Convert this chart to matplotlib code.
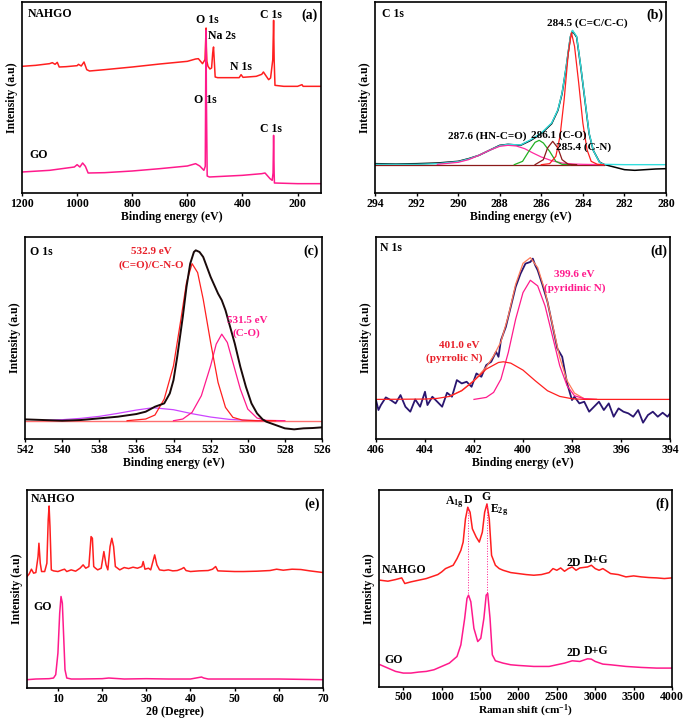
#Load packages.
import numpy as np
import matplotlib
matplotlib.use('Agg')
import matplotlib.pyplot as plt

plt.rcParams['font.family'] = ['Liberation Serif', 'DejaVu Serif']
plt.rcParams['font.weight'] = 'bold'
plt.rcParams['axes.labelweight'] = 'bold'
plt.rcParams['mathtext.fontset'] = 'custom'
plt.rcParams['mathtext.rm'] = 'Liberation Serif:bold'
plt.rcParams['mathtext.it'] = 'Liberation Serif:bold'

#Colours.
RED = '#ff1f1f'
PINK = '#ff1a8c'
NAVY = '#2a1670'

#(a) XPS survey.
a_nahgo_x = [1200, 1150, 1100, 1090, 1080, 1072, 1065, 1040, 1000, 995, 985, 975, 965, 955, 900, 800, 700, 600,
             570, 560, 545, 536, 533, 532, 531, 529, 525, 518, 512, 508, 505, 499, 490, 450, 412, 405, 398, 350,
             330, 324, 315, 305, 298, 290, 287, 285, 282, 250, 200, 184, 180, 150, 115]
a_nahgo_y = [380, 383, 388, 391, 386, 392, 378, 379, 382, 386, 381, 393, 370, 366, 370, 378, 387, 395,
             402, 403, 388, 400, 470, 495, 440, 395, 380, 372, 375, 420, 438, 348, 346, 346, 346, 355, 347, 350,
             356, 363, 352, 340, 345, 400, 518, 400, 323, 320, 320, 325, 320, 320, 320]
a_go_x = [1200, 1100, 1010, 1000, 990, 980, 970, 960, 900, 800, 700, 600, 570, 555, 540, 535, 533, 532, 531,
          528, 520, 400, 330, 318, 300, 292, 289, 287, 285, 284, 200, 115]
a_go_y = [63, 68, 78, 85, 78, 90, 80, 60, 61, 66, 73, 81, 88, 81, 68, 80, 400, 488, 300,
          51, 48, 53, 58, 60, 43, 38, 60, 173, 60, 30, 28, 28]

#(b) C 1s
b_exp_x = [294, 293, 292, 291, 290, 289.5, 289, 288.5, 288, 287.6, 287, 286.5, 286, 285.5, 285.2, 285, 284.8,
           284.6, 284.5, 284.3, 284.1, 283.9, 283.7, 283.5, 283.2, 283, 282.5, 282, 281.5, 281, 280.5, 280]
b_exp_y = [88, 87, 88, 90, 95, 103, 113, 128, 143, 146, 143, 158, 178, 208, 248, 298, 378,
           468, 486, 468, 378, 278, 178, 128, 93, 86, 78, 70, 68, 70, 72, 73]
b_fit_x = [294, 292, 291, 290, 289.5, 289, 288.5, 288, 287.6, 287, 286.5, 286, 285.5, 285.2, 285, 284.8,
           284.6, 284.5, 284.3, 284.1, 283.9, 283.7, 283.5, 283.2, 283, 282, 281, 280]
b_fit_y = [86, 86, 88, 94, 102, 113, 128, 142, 146, 144, 160, 180, 210, 250, 300, 380,
           470, 488, 470, 380, 280, 180, 128, 92, 86, 85, 85, 85]
b_cc_x = [286, 285.6, 285.3, 285.1, 284.9, 284.7, 284.55, 284.4, 284.2, 284.0, 283.8, 283.6, 283.3, 283]
b_cc_y = [85, 88, 110, 170, 280, 420, 481, 440, 330, 210, 130, 95, 86, 85]
b_co_x = [287.3, 286.9, 286.6, 286.3, 286.1, 285.9, 285.6, 285.3, 285.0, 284.6]
b_co_y = [85, 95, 125, 152, 158, 150, 125, 95, 86, 85]
b_cn_x = [286.3, 285.9, 285.7, 285.45, 285.2, 285.0, 284.7, 284.3]
b_cn_y = [85, 100, 135, 155, 135, 100, 86, 85]
b_hn_x = [291, 290, 289.5, 289, 288.5, 288, 287.6, 287.2, 286.8, 286.4, 286, 285.5, 285, 284.5, 284, 283]
b_hn_y = [86, 92, 100, 113, 128, 140, 143, 141, 133, 120, 108, 97, 90, 87, 86, 85]

#(c) O 1s
c_exp_x = [542, 541, 540, 539, 538, 537, 536, 535.5, 535, 534.5, 534.2, 534, 533.8, 533.5, 533.3, 533.1, 532.9,
           532.8, 532.6, 532.4, 532.2, 532, 531.8, 531.6, 531.4, 531.2, 531, 530.7, 530.4, 530.1, 529.8, 529.5,
           529.2, 529, 528.5, 528, 527.5, 527, 526.5, 526]
c_exp_y = [59, 57, 55, 57, 62, 67, 75, 82, 97, 107, 137, 177, 247, 367, 457, 527, 562,
           567, 562, 547, 517, 487, 462, 437, 417, 387, 347, 287, 217, 157, 107, 77,
           59, 52, 42, 32, 29, 32, 33, 35]
c_p1_x = [536.5, 535.5, 535, 534.5, 534, 533.6, 533.3, 533.0, 532.7, 532.4, 532.0, 531.6, 531.2, 530.8, 530.3, 529.5, 528.5]
c_p1_y = [55, 60, 72, 120, 220, 360, 470, 527, 500, 420, 290, 170, 95, 65, 57, 55, 55]
c_p2_x = [534, 533.5, 533, 532.5, 532, 531.7, 531.4, 531.1, 530.8, 530.4, 530, 529.5, 529, 528]
c_p2_y = [55, 60, 80, 130, 220, 285, 315, 290, 230, 150, 90, 63, 56, 55]
c_p3_x = [541, 540, 539, 538, 537, 536, 535.1, 534, 533, 532, 531, 530, 529]
c_p3_y = [56, 58, 62, 68, 77, 87, 94, 88, 76, 66, 59, 56, 55]

#(d) N 1s
d_exp_x = [406.0, 405.9, 405.8, 405.6, 405.4, 405.2, 405.0, 404.8, 404.6, 404.4, 404.2, 404.0, 403.9, 403.7,
           403.5, 403.3, 403.1, 402.9, 402.7, 402.5, 402.3, 402.1, 401.9, 401.7, 401.5, 401.3, 401.1, 401.0,
           400.9, 400.7, 400.5, 400.3, 400.1, 399.9, 399.7, 399.6, 399.5, 399.4, 399.2, 399.0, 398.8, 398.6,
           398.4, 398.2, 398.0, 397.9, 397.7, 397.5, 397.3, 397.1, 396.9, 396.7, 396.5, 396.3, 396.1, 395.9,
           395.7, 395.5, 395.3, 395.1, 394.9, 394.7, 394.5, 394.3, 394.1, 394.0]
d_exp_y = [117, 87, 102, 125, 117, 107, 132, 97, 82, 119, 97, 142, 102, 127,
           112, 97, 139, 127, 177, 167, 172, 157, 197, 187, 222, 232, 262, 247,
           297, 337, 397, 457, 497, 527, 532, 542, 522, 507, 462, 412, 342, 272,
           247, 167, 117, 127, 107, 112, 82, 97, 112, 87, 107, 67, 92, 82,
           77, 67, 87, 49, 72, 82, 67, 79, 67, 77]
d_pyrr_x = [406, 404, 403.5, 403, 402.5, 402, 401.5, 401.0, 400.8, 400.5, 400, 399.5, 399, 398.5, 398, 397.5, 394]
d_pyrr_y = [119, 120, 122, 128, 145, 175, 210, 230, 232, 228, 207, 175, 145, 128, 121, 119, 119]
d_pyri_x = [402, 401.5, 401.2, 400.9, 400.6, 400.3, 400, 399.7, 399.4, 399.1, 398.8, 398.5, 398.2, 397.9, 397.5, 397]
d_pyri_y = [119, 125, 140, 180, 260, 360, 440, 477, 460, 400, 310, 220, 160, 130, 121, 119]
d_env_x = [403, 402.5, 402, 401.5, 401.2, 400.9, 400.6, 400.3, 400, 399.7, 399.4, 399.1, 398.8, 398.5, 398.2,
           397.9, 397.5, 397]
d_env_y = [128, 146, 176, 216, 250, 292, 370, 465, 528, 545, 515, 445, 345, 245, 175, 138, 121, 119]

#(e) XRD
e_nahgo_x = [3.0, 3.5, 4.0, 4.5, 5.0, 5.5, 5.7, 6.0, 6.3, 7.0, 7.5, 7.8, 8.0, 8.2, 8.5, 9, 10, 11, 11.5, 12, 13,
             14, 15, 15.7, 16.3, 17, 17.5, 17.8, 18.1, 18.5, 19, 19.8, 20.4, 20.9, 21.3, 21.8, 22.2, 22.6, 23,
             24, 25, 26, 27, 28, 29, 29.3, 29.7, 30.5, 31, 31.6, 31.9, 32.4, 33, 34, 35, 36, 37, 38, 38.5, 39,
             40, 42, 44, 45, 45.7, 46.2, 48, 50, 52, 55, 58, 59.5, 61, 63, 65, 67, 70]
e_nahgo_y = [335, 343, 357, 345, 347, 395, 435, 375, 350, 350, 375, 505, 547, 485, 355, 352, 350, 355, 357, 350, 355,
             351, 360, 370, 360, 365, 455, 450, 365, 360, 355, 360, 410, 370, 355, 425, 450, 425, 365,
             355, 362, 359, 363, 360, 365, 380, 357, 360, 355, 385, 400, 370, 355, 353, 355, 352, 353, 358, 362, 353,
             350, 352, 353, 357, 365, 352, 351, 350, 350, 351, 353, 357, 354, 357, 356, 352, 347]
e_go_x = [3, 5, 8, 9, 9.5, 10.0, 10.4, 10.7, 11.0, 11.3, 11.6, 12, 13, 15, 20, 21.5, 25, 30, 35, 40, 42.5, 43,
          44, 50, 60, 70]
e_go_y = [25, 27, 28, 30, 40, 105, 225, 275, 255, 155, 55, 30, 27, 27, 28, 30, 27, 28, 27, 27, 33, 30,
          27, 27, 27, 25]

#(f) Raman
f_nahgo_x = [200, 300, 400, 480, 520, 600, 700, 800, 900, 950, 1000, 1050, 1100, 1150, 1200, 1250, 1280, 1310,
             1340, 1370, 1400, 1450, 1490, 1530, 1560, 1590, 1620, 1650, 1700, 1750, 1800, 1900, 2000, 2100,
             2200, 2300, 2400, 2450, 2500, 2550, 2600, 2650, 2700, 2750, 2800, 2900, 2950, 3000, 3050, 3100,
             3200, 3300, 3400, 3500, 3600, 3700, 3800, 3900, 4000]
f_nahgo_y = [322, 319, 324, 329, 312, 317, 322, 327, 335, 339, 347, 357, 362, 367, 387, 412, 437, 507,
             542, 527, 477, 452, 437, 467, 527, 552, 507, 397, 367, 357, 352, 345, 342, 339,
             337, 339, 345, 357, 352, 359, 349, 357, 362, 352, 359, 362, 367, 357, 352, 357,
             342, 339, 332, 335, 332, 330, 329, 327, 329]
f_go_x = [200, 300, 400, 500, 600, 700, 800, 900, 1000, 1100, 1200, 1250, 1300, 1330, 1350, 1380, 1420, 1470,
          1510, 1550, 1580, 1600, 1630, 1660, 1700, 1800, 1900, 2000, 2200, 2400, 2500, 2600, 2700, 2800,
          2900, 2950, 3000, 3100, 3200, 3400, 3600, 3800, 4000]
f_go_y = [67, 57, 47, 42, 42, 45, 47, 52, 62, 72, 92, 127, 207, 267, 277, 257, 177, 137,
          147, 207, 277, 282, 207, 97, 79, 72, 67, 65, 62, 62, 67, 72, 79, 77,
          85, 84, 77, 69, 67, 62, 59, 57, 57]

W, H = 685, 721
fig = plt.figure(figsize=(W / 100, H / 100), dpi=100)


def make_ax(left, top, right, bottom):
    ax = fig.add_axes([left / W, 1 - bottom / H, (right - left) / W, (bottom - top) / H])
    for s in ax.spines.values():
        s.set_linewidth(1.2)
    ax.set_yticks([])
    ax.tick_params(axis='x', labelsize=8.5, direction='out', length=2, width=1, pad=1.5)
    ax.set_ylabel('Intensity (a.u)', fontsize=8.5, labelpad=3)
    return ax


def tag(ax, s):
    ax.text(0.99, 0.93, s, transform=ax.transAxes, ha='right', va='center', fontsize=10)


#Panel (a)
ax = make_ax(22, 2, 321, 193)
ax.plot(a_nahgo_x, a_nahgo_y, color=RED, lw=1.1)
ax.plot(a_go_x, a_go_y, color=PINK, lw=1.1)
ax.set_xlim(1200, 115)
ax.set_ylim(0, 573)
ax.set_xticks([1200, 1000, 800, 600, 400, 200])
ax.set_xlabel('Binding energy (eV)', fontsize=8.5, labelpad=1)
ax.text(0.02, 0.935, 'NAHGO', transform=ax.transAxes, fontsize=8.5, va='center')
ax.text(0.025, 0.2, 'GO', transform=ax.transAxes, fontsize=8.5, va='center')
ax.text(527, 520, 'O 1s', ha='center', va='center', fontsize=8.5)
ax.text(473, 470, 'Na 2s', ha='center', va='center', fontsize=8.5)
ax.text(404, 378, 'N 1s', ha='center', va='center', fontsize=8.5)
ax.text(298, 533, 'C 1s', ha='center', va='center', fontsize=8.5)
ax.text(533, 280, 'O 1s', ha='center', va='center', fontsize=8.5)
ax.text(297, 193, 'C 1s', ha='center', va='center', fontsize=8.5)
tag(ax, '(a)')

#Panel (b)
ax = make_ax(375, 2, 666, 193)
ax.plot(b_exp_x, b_exp_y, color='black', lw=1.1)
ax.plot(b_fit_x, b_fit_y, color='#33dede', lw=1.0)
ax.plot([294, 283], [85, 85], color='#8b1a1a', lw=0.9)
ax.plot(b_hn_x, b_hn_y, color='#ff2aa0', lw=0.9)
ax.plot(b_co_x, b_co_y, color='#22b022', lw=0.9)
ax.plot(b_cn_x, b_cn_y, color='#8b1a1a', lw=0.9)
ax.plot(b_cc_x, b_cc_y, color=RED, lw=0.9)
ax.set_xlim(294, 280)
ax.set_ylim(0, 573)
ax.set_xticks(np.arange(294, 279, -2))
ax.set_xlabel('Binding energy (eV)', fontsize=8.5, labelpad=1)
ax.text(0.024, 0.935, 'C 1s', transform=ax.transAxes, fontsize=8.5, va='center')
ax.text(283.8, 508, '284.5 (C=C/C-C)', ha='center', va='center', fontsize=8)
ax.text(288.6, 170, '287.6 (HN-C=O)', ha='center', va='center', fontsize=8)
ax.text(285.15, 173, '286.1 (C-O)', ha='center', va='center', fontsize=8)
ax.text(283.95, 138, '285.4 (C-N)', ha='center', va='center', fontsize=8)
tag(ax, '(b)')

#Panel (c)
ax = make_ax(25, 237, 322, 439)
ax.plot([542, 526], [55, 55], color='#ff6f6f', lw=1.0)
ax.plot(c_p3_x, c_p3_y, color='#cc44ff', lw=0.9)
ax.plot(c_p2_x, c_p2_y, color=PINK, lw=0.9)
ax.plot(c_p1_x, c_p1_y, color=RED, lw=0.9)
ax.plot(c_exp_x, c_exp_y, color='#1a0a0a', lw=1.4)
ax.set_xlim(542, 526)
ax.set_ylim(0, 607)
ax.set_xticks(np.arange(542, 525, -2))
ax.set_xlabel('Binding energy (eV)', fontsize=8.5, labelpad=1)
ax.text(0.017, 0.925, 'O 1s', transform=ax.transAxes, fontsize=8.5, va='center')
ax.text(535.2, 562, '532.9 eV', ha='center', va='center', fontsize=8, color='#e8202a')
ax.text(535.2, 522, '(C=O)/C-N-O', ha='center', va='center', fontsize=8, color='#e8202a')
ax.text(530.05, 357, '531.5 eV', ha='center', va='center', fontsize=8, color=PINK)
ax.text(530.05, 319, '(C-O)', ha='center', va='center', fontsize=8, color=PINK)
tag(ax, '(c)')

#Panel (d)
ax = make_ax(376, 237, 670, 439)
ax.plot(d_exp_x, d_exp_y, color=NAVY, lw=1.3)
ax.plot(d_env_x, d_env_y, color='#ff7a5a', lw=0.9)
ax.plot(d_pyri_x, d_pyri_y, color=PINK, lw=0.9)
ax.plot(d_pyrr_x, d_pyrr_y, color=RED, lw=0.9)
ax.set_xlim(406, 394)
ax.set_ylim(0, 607)
ax.set_xticks(np.arange(406, 393, -2))
ax.set_xlabel('Binding energy (eV)', fontsize=8.5, labelpad=1)
ax.text(0.012, 0.945, 'N 1s', transform=ax.transAxes, fontsize=8.5, va='center')
ax.text(397.9, 495, '399.6 eV', ha='center', va='center', fontsize=8, color=PINK)
ax.text(397.9, 452, '(pyridinic N)', ha='center', va='center', fontsize=8, color=PINK)
ax.text(402.6, 282, '401.0 eV', ha='center', va='center', fontsize=8, color='#e8202a')
ax.text(402.8, 244, '(pyrrolic N)', ha='center', va='center', fontsize=8, color='#e8202a')
tag(ax, '(d)')

#Panel (e)
ax = make_ax(27, 490, 323, 688)
ax.plot(e_nahgo_x, e_nahgo_y, color=RED, lw=1.1)
ax.plot(e_go_x, e_go_y, color=PINK, lw=1.1)
ax.set_xlim(3, 70)
ax.set_ylim(0, 595)
ax.set_xticks(np.arange(10, 71, 10))
ax.set_xlabel('2θ (Degree)', fontsize=8.5, labelpad=1)
ax.text(0.014, 0.955, 'NAHGO', transform=ax.transAxes, fontsize=8.5, va='center')
ax.text(0.02, 0.41, 'GO', transform=ax.transAxes, fontsize=8.5, va='center')
tag(ax, '(e)')

#Panel (f)
ax = make_ax(379, 490, 672, 687)
ax.plot(f_nahgo_x, f_nahgo_y, color=RED, lw=1.1)
ax.plot(f_go_x, f_go_y, color=PINK, lw=1.1)
#dotted guides joining the D and G peaks of both spectra
fn_x, fn_y = np.array(f_nahgo_x), np.array(f_nahgo_y)
fg_x, fg_y = np.array(f_go_x), np.array(f_go_y)
for lo, hi in [(1200, 1450), (1450, 1700)]:
    m1 = (fn_x > lo) & (fn_x < hi)
    m2 = (fg_x > lo) & (fg_x < hi)
    i1 = np.argmax(fn_y[m1])
    i2 = np.argmax(fg_y[m2])
    ax.plot([fn_x[m1][i1], fn_x[m1][i1]], [fn_y[m1][i1], fg_y[m2][i2]], color=PINK, lw=0.7, ls=':')
ax.set_xlim(184, 4000)
ax.set_ylim(0, 594)
ax.set_xticks(np.arange(500, 4001, 500))
ax.tick_params(axis='x', pad=1)
ax.set_xlabel('Raman shift (cm$^{-1}$)', fontsize=8.2, labelpad=0)
ax.text(1172, 557, '$\\mathrm{A_{1g}}$', ha='center', va='center', fontsize=8.5)
ax.text(1346, 564, 'D', ha='center', va='center', fontsize=8.5)
ax.text(1575, 572, 'G', ha='center', va='center', fontsize=8.5)
ax.text(1749, 532, '$\\mathrm{E_{2g}}$', ha='center', va='center', fontsize=8.5)
ax.text(509, 354, 'NAHGO', ha='center', va='center', fontsize=8.5)
ax.text(2720, 374, '2D', ha='center', va='center', fontsize=8.5)
ax.text(3015, 384, 'D+G', ha='center', va='center', fontsize=8.5)
ax.text(370, 82, 'GO', ha='center', va='center', fontsize=8.5)
ax.text(2720, 104, '2D', ha='center', va='center', fontsize=8.5)
ax.text(3015, 109, 'D+G', ha='center', va='center', fontsize=8.5)
tag(ax, '(f)')

fig.savefig('out.png', dpi=100)
